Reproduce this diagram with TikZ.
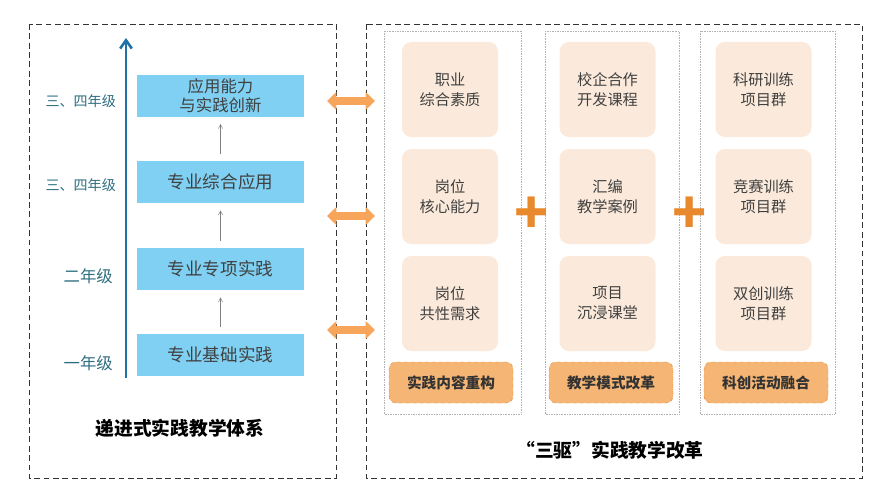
\documentclass[tikz,border=0pt]{standalone}
\usepackage{fontspec}
\setmainfont{Noto Sans CJK SC}
\usetikzlibrary{positioning,arrows.meta}
\tikzset{>={Straight Barb[width=1.3mm,length=1.3mm]}}
\definecolor{skyblue}{HTML}{7FD0F2}
\definecolor{gradeteal}{HTML}{2E6E80}
\definecolor{cellpeach}{HTML}{FBEADB}
\definecolor{tagorange}{HTML}{F5B574}
\definecolor{darkorange}{HTML}{E8892E}
\definecolor{arroworange}{HTML}{F6A55A}
\definecolor{axisblue}{HTML}{1F72A8}

\begin{document}
\begin{tikzpicture}[x=0.03cm,y=-0.03cm]
  \tikzstyle{stage} = [fill=skyblue, minimum width=5.01cm, minimum height=1.26cm, align=center, font=\fontsize{15}{17}\selectfont, text=black!75]
  \tikzstyle{grade} = [anchor=east, text=gradeteal, font=\fontsize{12}{14}\selectfont]
  \tikzstyle{cell} = [fill=cellpeach, rounded corners=8pt, minimum width=2.88cm, minimum height=2.85cm, align=center, font=\fontsize{13}{17}\selectfont, text=black!75]
  \tikzstyle{tag} = [fill=tagorange, draw=darkorange, dashed, rounded corners=6pt, minimum width=3.72cm, minimum height=1.23cm, font=\bfseries\fontsize{12.5}{14}\selectfont, text=black!80]
  \tikzstyle{column} = [draw=gray!60, densely dotted]
  \tikzstyle{frame} = [draw=black!80, dash pattern=on 5pt off 3pt, thick]

  \useasboundingbox (0,0) rectangle (888,500);

  % left part
  \draw[frame] (29,24) rectangle (336,478);
  \coordinate (axisbot) at (126,378);
  \coordinate (axistop) at (126,38);
  \draw[axisblue, line width=2.2pt, -{Straight Barb[width=3.5mm,length=2.5mm]}] (axisbot) -- (axistop);

  \node[stage] (s1) at (220.5,355) {专业基础实践};
  \node[stage] (s2) at (220.5,269) {专业专项实践};
  \node[stage] (s3) at (220.5,182) {专业综合应用};
  \node[stage, font=\fontsize{14}{16}\selectfont] (s4) at (220.5,95.5) {应用能力\\与实践创新};

  \draw[->, gray] ([yshift=6pt]s1.north) -- ([yshift=-6pt]s2.south);
  \draw[->, gray] ([yshift=6pt]s2.north) -- ([yshift=-6pt]s3.south);
  \draw[->, gray] ([yshift=6pt]s3.north) -- ([yshift=-6pt]s4.south);

  \node[grade] (g4) at (120,101) {三、四年级};
  \node[grade] (g3) at (120,185) {三、四年级};
  \node[grade, font=\fontsize{14}{16}\selectfont] (g2) at (117,276) {二年级};
  \node[grade, font=\fontsize{14}{16}\selectfont] (g1) at (117,363) {一年级};

  \node[font=\bfseries\fontsize{16}{18}\selectfont] (ltitle) at (180,428) {递进式实践教学体系};

  % right part
  \draw[frame] (366,24) rectangle (862,478);
  \draw[column] (384,31) rectangle (521,414);
  \draw[column] (545,31) rectangle (679,414);
  \draw[column] (700,31) rectangle (835,414);

  \node[cell] (a1) at (450,89.5) {职业\\综合素质};
  \node[cell] (a2) at (450,196.5) {岗位\\核心能力};
  \node[cell] (a3) at (450,303.5) {岗位\\共性需求};
  \node[cell] (b1) at (607.5,89.5) {校企合作\\开发课程};
  \node[cell] (b2) at (607.5,196.5) {汇编\\教学案例};
  \node[cell] (b3) at (607.5,303.5) {项目\\沉浸课堂};
  \node[cell] (c1) at (763.5,89.5) {科研训练\\项目群};
  \node[cell] (c2) at (763.5,196.5) {竞赛训练\\项目群};
  \node[cell] (c3) at (763.5,303.5) {双创训练\\项目群};

  \node[tag] (ta) at (451,382.5) {实践内容重构};
  \node[tag] (tb) at (611,382.5) {教学模式改革};
  \node[tag] (tc) at (766,382.5) {科创活动融合};

  \node[text=darkorange, font=\bfseries\fontsize{48}{48}\selectfont, inner sep=0pt] (p1) at (532,215) {+};
  \node[text=darkorange, font=\bfseries\fontsize{48}{48}\selectfont, inner sep=0pt] (p2) at (690,215) {+};

  \node[font=\bfseries\fontsize{16}{18}\selectfont] (rtitle) at (610,450) {“三驱”实践教学改革};

  % links between parts
  \foreach \y [count=\i] in {101,216,330} {
    \coordinate (la\i) at (327,\y);
    \coordinate (lb\i) at (375,\y);
    \draw[arroworange, line width=6pt, {Triangle[width=15pt,length=8pt]}-{Triangle[width=15pt,length=8pt]}] (la\i) -- (lb\i);
  }
\end{tikzpicture}
\end{document}
